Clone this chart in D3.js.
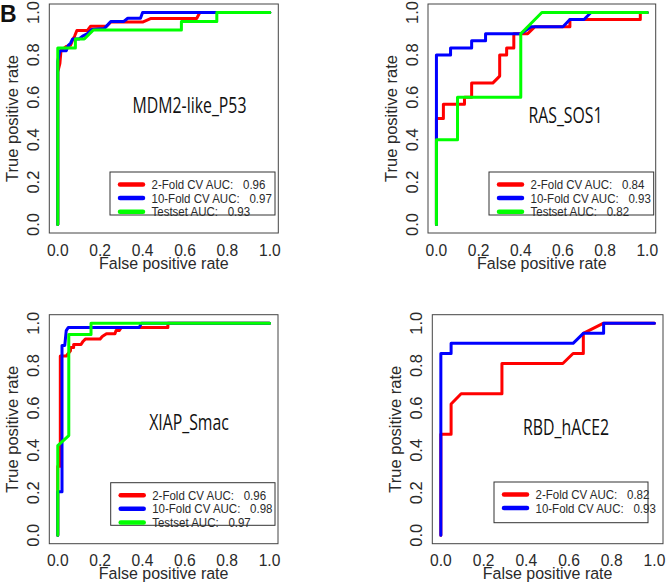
<!DOCTYPE html>
<html>
<head>
<meta charset="utf-8">
<script src="https://cdn.jsdelivr.net/npm/d3@7"></script>
<style>
  body { margin: 0; background: #fff; }
  svg { display: block; }
  text { fill: #2a2a2a; }
</style>
</head>
<body>
<div id="graph"></div>
<script>
// ROC curves, [false positive rate, true positive rate]
var mdmTwoFold = [[0,0],[0,0.72],[0.01,0.76],[0.015,0.82],[0.04,0.84],[0.06,0.845],[0.07,0.87],[0.08,0.89],[0.09,0.915],[0.14,0.915],[0.155,0.935],[0.23,0.935],[0.25,0.955],[0.4,0.955],[0.44,0.972],[0.655,0.972],[0.67,1],[1,1]];
var mdmTenFold = [[0,0],[0,0.77],[0.01,0.82],[0.04,0.82],[0.05,0.845],[0.06,0.855],[0.07,0.875],[0.1,0.875],[0.12,0.89],[0.14,0.9],[0.16,0.92],[0.22,0.925],[0.25,0.957],[0.31,0.957],[0.33,0.973],[0.39,0.973],[0.4,1],[1,1]];
var mdmTestset = [[0,0],[0,0.833],[0.083,0.833],[0.083,0.875],[0.125,0.875],[0.167,0.917],[0.583,0.917],[0.583,0.958],[0.75,0.958],[0.75,1],[1,1]];

var rasTwoFold = [[0,0],[0,0.5],[0.033,0.5],[0.033,0.567],[0.133,0.567],[0.133,0.6],[0.167,0.6],[0.167,0.667],[0.267,0.667],[0.3,0.7],[0.3,0.8],[0.333,0.8],[0.333,0.833],[0.367,0.833],[0.367,0.9],[0.433,0.9],[0.467,0.933],[0.633,0.933],[0.633,0.967],[0.967,0.967],[0.967,1],[1,1]];
var rasTenFold = [[0,0],[0,0.8],[0.067,0.8],[0.067,0.833],[0.167,0.833],[0.167,0.867],[0.233,0.867],[0.233,0.9],[0.4,0.9],[0.45,0.933],[0.6,0.933],[0.633,0.967],[0.7,0.967],[0.733,1],[1,1]];
var rasTestset = [[0,0],[0,0.4],[0.1,0.4],[0.1,0.6],[0.4,0.6],[0.4,0.9],[0.5,1],[1,1]];

var xiapTwoFold = [[0,0],[0,0.325],[0.012,0.325],[0.012,0.845],[0.04,0.845],[0.06,0.87],[0.06,0.885],[0.075,0.885],[0.075,0.9],[0.11,0.9],[0.12,0.915],[0.13,0.925],[0.2,0.925],[0.21,0.937],[0.23,0.95],[0.27,0.95],[0.275,0.965],[0.29,0.965],[0.3,0.98],[0.52,0.98],[0.52,1],[1,1]];
var xiapTenFold = [[0,0],[0,0.205],[0.02,0.205],[0.02,0.895],[0.033,0.895],[0.04,0.965],[0.05,0.98],[0.385,0.98],[0.395,1],[1,1]];
var xiapTestset = [[0,0],[0,0.423],[0.052,0.47],[0.052,0.947],[0.157,0.947],[0.157,1],[1,1]];

var rbdTwoFold = [[0,0],[0,0.476],[0.048,0.476],[0.048,0.619],[0.095,0.667],[0.286,0.667],[0.286,0.81],[0.571,0.81],[0.619,0.857],[0.667,0.857],[0.667,0.952],[0.762,1],[1,1]];
var rbdTenFold = [[0,0],[0,0.857],[0.048,0.857],[0.048,0.905],[0.619,0.905],[0.667,0.952],[0.762,0.952],[0.762,1],[1,1]];

var seriesNames = ["2-Fold CV AUC:", "10-Fold CV AUC:", "Testset AUC:"];
var seriesColors = ["#ff0000", "#0000ff", "#00ff00"];
var mdmAuc = ["0.96", "0.97", "0.93"];
var rasAuc = ["0.84", "0.93", "0.82"];
var xiapAuc = ["0.96", "0.98", "0.97"];
var rbdAuc = ["0.82", "0.93"];

var ticks = [0, 0.2, 0.4, 0.6, 0.8, 1.0];

var panels = [
  { name: "MDM2-like_P53", curves: [mdmTwoFold, mdmTenFold, mdmTestset], auc: mdmAuc,
    box: [49.3, 4, 278.3, 233], label: [189.5, 112.5], legend: [110, 172, 275, 215] },
  { name: "RAS_SOS1", curves: [rasTwoFold, rasTenFold, rasTestset], auc: rasAuc,
    box: [428, 4, 655.7, 233], label: [565.5, 123], legend: [489, 172, 653.7, 215] },
  { name: "XIAP_Smac", curves: [xiapTwoFold, xiapTenFold, xiapTestset], auc: xiapAuc,
    box: [49.3, 314.7, 278, 543.7], label: [189, 430], legend: [110.7, 482.7, 275, 525.3] },
  { name: "RBD_hACE2", curves: [rbdTwoFold, rbdTenFold], auc: rbdAuc,
    box: [432.3, 314.7, 663, 543.7], label: [566, 435], legend: [494, 482, 648, 522.7] },
];

var svg = d3.select("#graph").append("svg").attr("width", 666).attr("height", 584);

var axisFont = "'Liberation Sans', Arial, sans-serif";

svg.append("text")
  .attr("x", 0).attr("y", 21.7)
  .style("font-family", axisFont).style("font-weight", "bold").style("font-size", "23px")
  .style("fill", "#111")
  .text("B");

panels.forEach(function (p) {
  var b = p.box;
  var x = d3.scaleLinear().domain([-0.04, 1.04]).range([b[0], b[2]]);
  var y = d3.scaleLinear().domain([-0.04, 1.04]).range([b[3], b[1]]);
  var g = svg.append("g");

  g.append("rect")
    .attr("x", b[0]).attr("y", b[1])
    .attr("width", b[2] - b[0]).attr("height", b[3] - b[1])
    .attr("fill", "none").attr("stroke", "#444").attr("stroke-width", 1);

  // tick labels (the original is slightly squeezed sideways)
  g.selectAll(".xt").data(ticks).enter().append("text")
    .attr("transform", function (d) { return "translate(" + x(d) + "," + (b[3] + 22.5) + ") scale(0.92,1)"; })
    .attr("text-anchor", "middle")
    .style("font-family", axisFont).style("font-size", "17px")
    .text(function (d) { return d.toFixed(1); });

  g.selectAll(".yt").data(ticks).enter().append("text")
    .attr("transform", function (d) { return "translate(" + (b[0] - 10.5) + "," + y(d) + ") rotate(-90)"; })
    .attr("text-anchor", "middle")
    .style("font-family", axisFont).style("font-size", "16.5px")
    .text(function (d) { return d.toFixed(1); });

  g.append("text")
    .attr("transform", "translate(" + (b[0] + b[2]) / 2 + "," + (b[3] + 35.5) + ") scale(0.94,1)")
    .attr("text-anchor", "middle")
    .style("font-family", axisFont).style("font-size", "17px")
    .text("False positive rate");

  g.append("text")
    .attr("transform", "translate(" + (b[0] - 31) + "," + (b[1] + b[3]) / 2 + ") rotate(-90)")
    .attr("text-anchor", "middle")
    .style("font-family", axisFont).style("font-size", "16.5px")
    .text("True positive rate");

  // curves
  var line = d3.line().x(function (d) { return x(d[0]); }).y(function (d) { return y(d[1]); });
  p.curves.forEach(function (c, i) {
    g.append("path")
      .attr("d", line(c))
      .attr("fill", "none")
      .attr("stroke", seriesColors[i])
      .attr("stroke-width", 3)
      .attr("stroke-linejoin", "round")
      .attr("stroke-linecap", "round");
  });

  // panel name, condensed like the original
  g.append("text")
    .attr("transform", "translate(" + p.label[0] + "," + p.label[1] + ") scale(0.72,1)")
    .attr("text-anchor", "middle")
    .style("font-family", "'Open Sans', sans-serif").style("font-size", "22px")
    .style("fill", "#111")
    .text(p.name);

  // legend
  var L = p.legend;
  g.append("rect")
    .attr("x", L[0]).attr("y", L[1])
    .attr("width", L[2] - L[0]).attr("height", L[3] - L[1])
    .attr("fill", "#fff").attr("stroke", "#333").attr("stroke-width", 1);

  p.auc.forEach(function (v, i) {
    var ry = L[1] + 12.5 + i * 13.6;
    g.append("line")
      .attr("x1", L[0] + 10).attr("x2", L[0] + 33)
      .attr("y1", ry).attr("y2", ry)
      .attr("stroke", seriesColors[i]).attr("stroke-width", 4.5)
      .attr("stroke-linecap", "round");
    var t = g.append("text")
      .attr("transform", "translate(" + (L[0] + 41.5) + "," + (ry + 4.5) + ") scale(0.885,1)")
      .style("font-family", axisFont).style("font-size", "13px");
    t.append("tspan").text(seriesNames[i]);
    t.append("tspan").attr("dx", 11).text(v);
  });
});
</script>
</body>
</html>
